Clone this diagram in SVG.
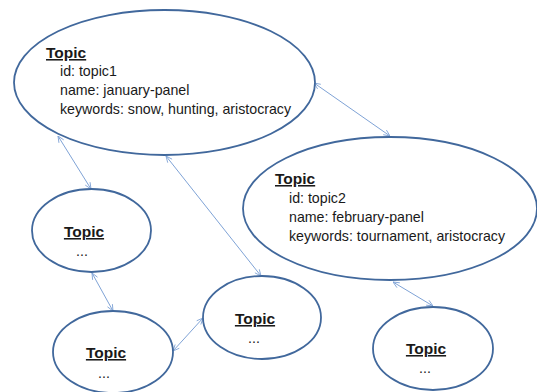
<svg xmlns="http://www.w3.org/2000/svg" width="537" height="392" viewBox="0 0 537 392">
<defs>
<marker id="ah" viewBox="0 0 10 10" refX="10" refY="5" markerWidth="7" markerHeight="7" orient="auto-start-reverse" markerUnits="userSpaceOnUse">
<path d="M1,1 L10,5 L1,9" fill="none" stroke="#7fa3d6" stroke-width="1.2"/>
</marker>
</defs>
<style>
.node ellipse{fill:#fff;stroke:#41689c;stroke-width:1.8}
.t{font-family:"Liberation Sans",Arial,sans-serif;fill:#1a1a1a}
.h{font-size:15.5px;font-weight:bold;text-decoration:underline}
.b{font-size:14.2px}
.c line{stroke:#7fa3d6;stroke-width:1;marker-start:url(#ah);marker-end:url(#ah)}
</style>
<rect width="537" height="392" fill="#fff"/>
<g class="c" id="connectors">
<line x1="58" y1="136" x2="91" y2="189"/>
<line x1="166" y1="156" x2="261" y2="276"/>
<line x1="314" y1="83" x2="390" y2="136"/>
<line x1="92" y1="273" x2="113" y2="311"/>
<line x1="173" y1="351" x2="203" y2="318"/>
<line x1="393" y1="282" x2="433" y2="306"/>
</g>
<g class="node" id="topic1">
<ellipse cx="164.5" cy="82.5" rx="150.5" ry="72.5"/>
<text class="t h" x="46" y="58">Topic</text>
<text class="t b" x="60" y="76">id: topic1</text>
<text class="t b" x="60" y="95">name: january-panel</text>
<text class="t b" x="60" y="114">keywords: snow, hunting, aristocracy</text>
</g>
<g class="node" id="topic2">
<ellipse cx="390" cy="208.5" rx="147" ry="71.5"/>
<text class="t h" x="275" y="184">Topic</text>
<text class="t b" x="289" y="203">id: topic2</text>
<text class="t b" x="289" y="222">name: february-panel</text>
<text class="t b" x="289" y="241">keywords: tournament, aristocracy</text>
</g>
<g class="node" id="topicA">
<ellipse cx="91.5" cy="230.5" rx="59.5" ry="41.5"/>
<text class="t h" x="84" y="237" text-anchor="middle">Topic</text>
<text class="t b" x="82" y="256" text-anchor="middle">...</text>
</g>
<g class="node" id="topicB">
<ellipse cx="113" cy="352" rx="60" ry="41"/>
<text class="t h" x="106" y="358" text-anchor="middle">Topic</text>
<text class="t b" x="104" y="378" text-anchor="middle">...</text>
</g>
<g class="node" id="topicC">
<ellipse cx="262" cy="317.5" rx="59" ry="41.5"/>
<text class="t h" x="255" y="324" text-anchor="middle">Topic</text>
<text class="t b" x="254" y="343" text-anchor="middle">...</text>
</g>
<g class="node" id="topicD">
<ellipse cx="433" cy="348.5" rx="60" ry="41.5"/>
<text class="t h" x="426" y="354" text-anchor="middle">Topic</text>
<text class="t b" x="425" y="373" text-anchor="middle">...</text>
</g>
</svg>
